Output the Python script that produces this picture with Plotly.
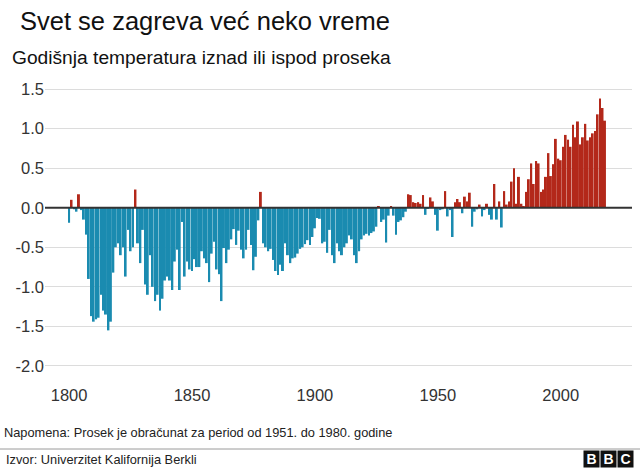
import plotly.graph_objects as go

# ---------------- data ----------------
years = list(range(1800, 2019))

anomaly = [
    # 1800-1809
    -0.19, 0.10, -0.02, -0.05, 0.17, -0.03, -0.15, -0.34, -0.90, -1.37,
    # 1810-1819
    -1.44, -1.41, -1.39, -1.10, -1.30, -1.35, -1.55, -1.44, -0.82, -0.50,
    # 1820-1829
    -0.45, -0.60, -0.50, -0.87, -0.28, -0.55, -0.50, 0.23, -0.45, -0.70,
    # 1830-1839
    -0.28, -0.97, -1.10, -0.60, -1.00, -1.18, -1.10, -1.30, -1.15, -0.92,
    # 1840-1849
    -0.87, -0.92, -1.04, -0.68, -0.53, -1.04, -0.18, -0.87, -0.68, -0.78,
    # 1850-1859
    -0.80, -0.65, -0.75, -0.75, -0.55, -0.64, -0.70, -0.94, -0.58, -0.43,
    # 1860-1869
    -0.78, -0.84, -1.18, -0.51, -0.70, -0.53, -0.40, -0.27, -0.47, -0.29,
    # 1870-1879
    -0.53, -0.64, -0.53, -0.28, -0.47, -0.79, -0.62, -0.16, 0.20, -0.45,
    # 1880-1889
    -0.50, -0.55, -0.52, -0.66, -0.80, -0.85, -0.72, -0.80, -0.45, -0.60,
    # 1890-1899
    -0.70, -0.64, -0.63, -0.58, -0.52, -0.50, -0.46, -0.41, -0.47, -0.37,
    # 1900-1909
    -0.26, -0.13, -0.14, -0.45, -0.43, -0.57, -0.28, -0.60, -0.70, -0.45,
    # 1910-1919
    -0.55, -0.60, -0.50, -0.45, -0.35, -0.40, -0.60, -0.70, -0.55, -0.40,
    # 1920-1929
    -0.35, -0.33, -0.35, -0.32, -0.30, -0.24, 0.02, -0.18, -0.15, -0.44,
    # 1930-1939
    -0.10, 0.02, -0.10, -0.34, -0.18, -0.16, -0.12, -0.05, 0.17, 0.16,
    # 1940-1949
    0.07, 0.06, 0.07, 0.05, 0.16, -0.09, -0.01, 0.13, 0.08, -0.09,
    # 1950-1959
    -0.29, -0.03, -0.02, 0.21, -0.11, -0.03, -0.37, 0.07, 0.11, 0.07,
    # 1960-1969
    -0.07, 0.14, 0.08, 0.19, -0.24, -0.05, -0.02, 0.04, -0.11, -0.03,
    # 1970-1979
    0.05, -0.09, -0.15, 0.30, -0.15, 0.08, -0.25, 0.21, 0.04, 0.08,
    # 1980-1989
    0.33, 0.50, 0.05, 0.39, 0.05, 0.02, 0.20, 0.36, 0.56, 0.30,
    # 1990-1999
    0.59, 0.56, 0.20, 0.23, 0.39, 0.69, 0.40, 0.55, 0.87, 0.62,
    # 2000-2009
    0.60, 0.77, 0.92, 0.86, 0.77, 1.05, 0.89, 1.09, 0.80, 0.89,
    # 2010-2018
    1.06, 0.85, 0.89, 0.94, 0.97, 1.18, 1.38, 1.26, 1.10,
]

x_ticks = [1800, 1850, 1900, 1950, 2000]
y_ticks = [-2.0, -1.5, -1.0, -0.5, 0.0, 0.5, 1.0, 1.5]
y_tick_text = ["-2.0", "-1.5", "-1.0", "-0.5", "0.0", "0.5", "1.0", "1.5"]

title = "Svet se zagreva već neko vreme"
subtitle = "Godišnja temperatura iznad ili ispod proseka"
note = "Napomena: Prosek je obračunat za period od 1951. do 1980. godine"
source = "Izvor: Univerzitet Kalifornija Berkli"

# ---------------- styling ----------------
BLUE = "#1a8bb0"
RED = "#b3281a"
FONT = "Liberation Sans"

W, H = 640, 469
L, R, T, B = 45, 8, 80, 86
pw, ph = W - L - R, H - T - B


def px(x):
    """page pixel -> paper x"""
    return (x - L) / pw


def py(y):
    """page pixel from top -> paper y"""
    return (H - B - y) / ph


colors = [RED if v > 0 else BLUE for v in anomaly]

fig = go.Figure(
    go.Bar(
        x=years,
        y=anomaly,
        marker=dict(color=colors, line=dict(width=0)),
        width=0.8,
        hoverinfo="x+y",
    )
)

fig.update_layout(
    width=W,
    height=H,
    margin=dict(l=L, r=R, t=T, b=B),
    paper_bgcolor="white",
    plot_bgcolor="white",
    showlegend=False,
    font=dict(family=FONT, color="#222222"),
    xaxis=dict(
        range=[1790.2, 2029],
        tickvals=x_ticks,
        showgrid=False,
        zeroline=False,
        showline=False,
        ticks="",
        tickfont=dict(size=16.5, color="#333333", family=FONT),
    ),
    yaxis=dict(
        range=[-2.215, 1.614],
        tickvals=y_ticks,
        ticktext=y_tick_text,
        showgrid=True,
        gridcolor="#dcdcdc",
        gridwidth=1,
        zeroline=False,
        showline=False,
        ticks="",
        tickfont=dict(size=16.5, color="#333333", family=FONT),
    ),
    shapes=[
        dict(type="line", xref="paper", yref="y", x0=0, x1=1, y0=0, y1=0,
             line=dict(color="#333333", width=2), layer="above"),
        dict(type="line", xref="paper", yref="paper", x0=px(0), x1=px(640),
             y0=py(449), y1=py(449), line=dict(color="#9a9a9a", width=1)),
    ],
)

ann = []
ann.append(dict(text=title, x=px(18), y=py(21), xref="paper", yref="paper",
                xanchor="left", yanchor="middle", showarrow=False,
                font=dict(size=25.5, color="#111111", family=FONT)))
ann.append(dict(text=subtitle, x=px(10), y=py(57), xref="paper", yref="paper",
                xanchor="left", yanchor="middle", showarrow=False,
                font=dict(size=19.2, color="#111111", family=FONT)))
ann.append(dict(text=note, x=px(2), y=py(432), xref="paper", yref="paper",
                xanchor="left", yanchor="middle", showarrow=False,
                font=dict(size=12.8, color="#222222", family=FONT)))
ann.append(dict(text=source, x=px(4), y=py(459), xref="paper", yref="paper",
                xanchor="left", yanchor="middle", showarrow=False,
                font=dict(size=12.8, color="#222222", family=FONT)))
for i, letter in enumerate("BBC"):
    cx = 591 + i * 17
    ann.append(dict(text="<b>%s</b>" % letter, x=px(cx), y=py(459),
                    xref="paper", yref="paper", xanchor="center",
                    yanchor="middle", showarrow=False, bgcolor="#111111",
                    width=15, height=16, borderpad=0,
                    font=dict(size=14, color="white", family=FONT)))
fig.update_layout(annotations=ann)

# remove the browser's default 8px page margin so the figure fills the window
fig.write_html(
    "out.html",
    config={"displayModeBar": False},
    post_script="document.body.style.margin='0';document.body.style.overflow='hidden';",
)
